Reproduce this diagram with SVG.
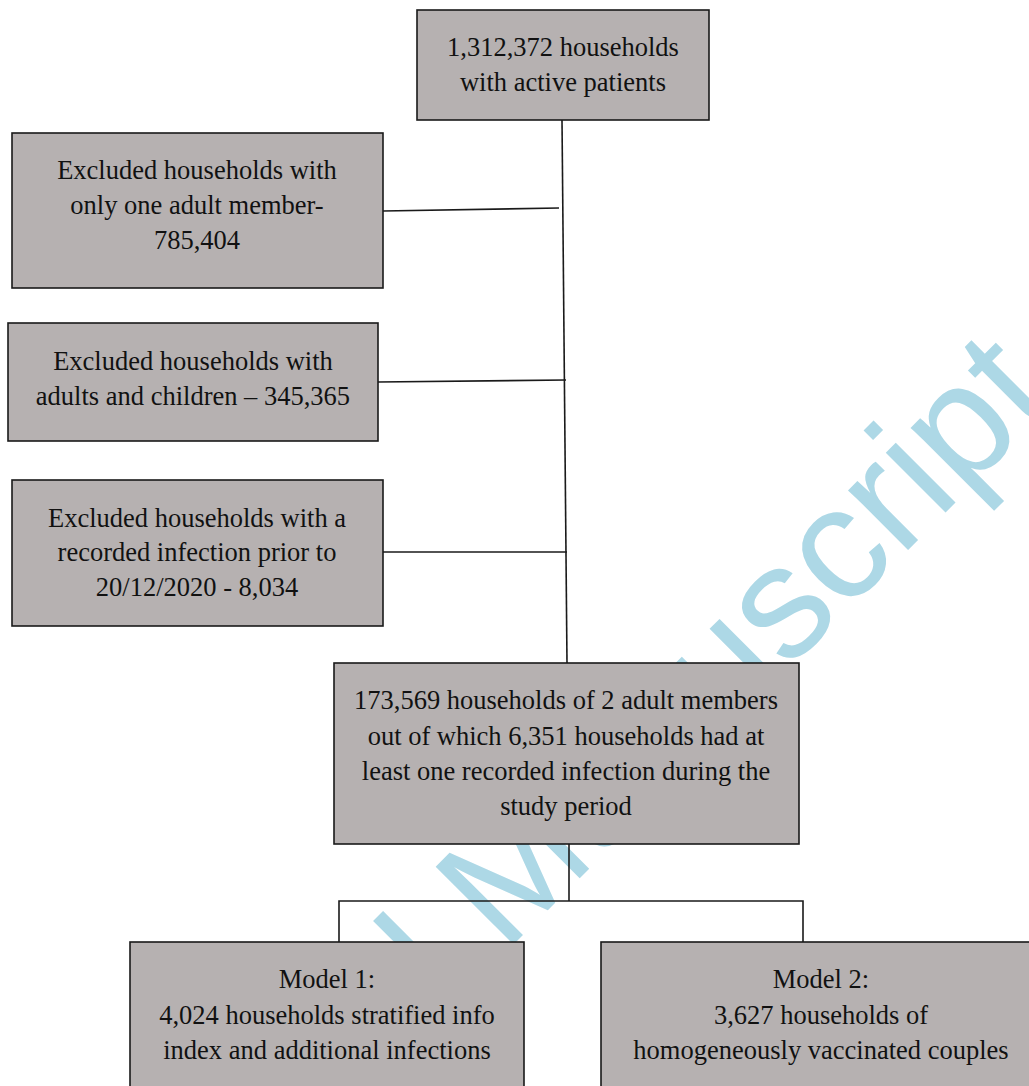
<svg xmlns="http://www.w3.org/2000/svg" width="1029" height="1086" viewBox="0 0 1029 1086">
<style>
.box{fill:#b6b1b1;stroke:#1a1a1a;stroke-width:1.6}
.t{font-family:"Liberation Serif","Times New Roman",serif;font-size:26.5px;fill:#111;text-anchor:middle}
.c{stroke:#1a1a1a;stroke-width:1.6;fill:none}
.wm{font-family:"Liberation Sans",Arial,sans-serif;font-size:160px;fill:#add8e6}
</style>
<rect width="1029" height="1086" fill="#ffffff"/>
<text id="watermark" class="wm" transform="translate(1,1457) rotate(-45)" x="0" y="0">Accepted Manuscript</text>
<g id="connectors">
<line class="c" x1="562" y1="120" x2="567" y2="663"/>
<line class="c" x1="383" y1="211" x2="559" y2="208"/>
<line class="c" x1="378" y1="382" x2="566" y2="380"/>
<line class="c" x1="383" y1="552" x2="567" y2="552"/>
<line class="c" x1="569" y1="844" x2="569" y2="901"/>
<polyline class="c" points="339,942 339,901 803,901 803,942"/>
</g>
<g id="n1">
<rect class="box" x="417" y="10" width="292" height="110"/>
<text class="t" x="563" y="56">1,312,372 households</text>
<text class="t" x="563" y="91">with active patients</text>
</g>
<g id="n2">
<rect class="box" x="12" y="133" width="371" height="155"/>
<text class="t" x="197" y="179">Excluded households with</text>
<text class="t" x="197" y="214">only one adult member-</text>
<text class="t" x="197" y="249">785,404</text>
</g>
<g id="n3">
<rect class="box" x="8" y="323" width="370" height="118"/>
<text class="t" x="193" y="370">Excluded households with</text>
<text class="t" x="193" y="405">adults and children – 345,365</text>
</g>
<g id="n4">
<rect class="box" x="12" y="480" width="371" height="146"/>
<text class="t" x="197" y="527">Excluded households with a</text>
<text class="t" x="197" y="561">recorded infection prior to</text>
<text class="t" x="197" y="596">20/12/2020 - 8,034</text>
</g>
<g id="n5">
<rect class="box" x="334" y="663" width="465" height="181"/>
<text class="t" x="566" y="709">173,569 households of 2 adult members</text>
<text class="t" x="566" y="745">out of which 6,351 households had at</text>
<text class="t" x="566" y="780">least one recorded infection during the</text>
<text class="t" x="566" y="815">study period</text>
</g>
<g id="n6">
<rect class="box" x="130" y="942" width="394" height="160"/>
<text class="t" x="327" y="988">Model 1:</text>
<text class="t" x="327" y="1024">4,024 households stratified info</text>
<text class="t" x="327" y="1059">index and additional infections</text>
</g>
<g id="n7">
<rect class="box" x="601" y="942" width="440" height="160"/>
<text class="t" x="821" y="988">Model 2:</text>
<text class="t" x="821" y="1024">3,627 households of</text>
<text class="t" x="821" y="1059">homogeneously vaccinated couples</text>
</g>
</svg>
